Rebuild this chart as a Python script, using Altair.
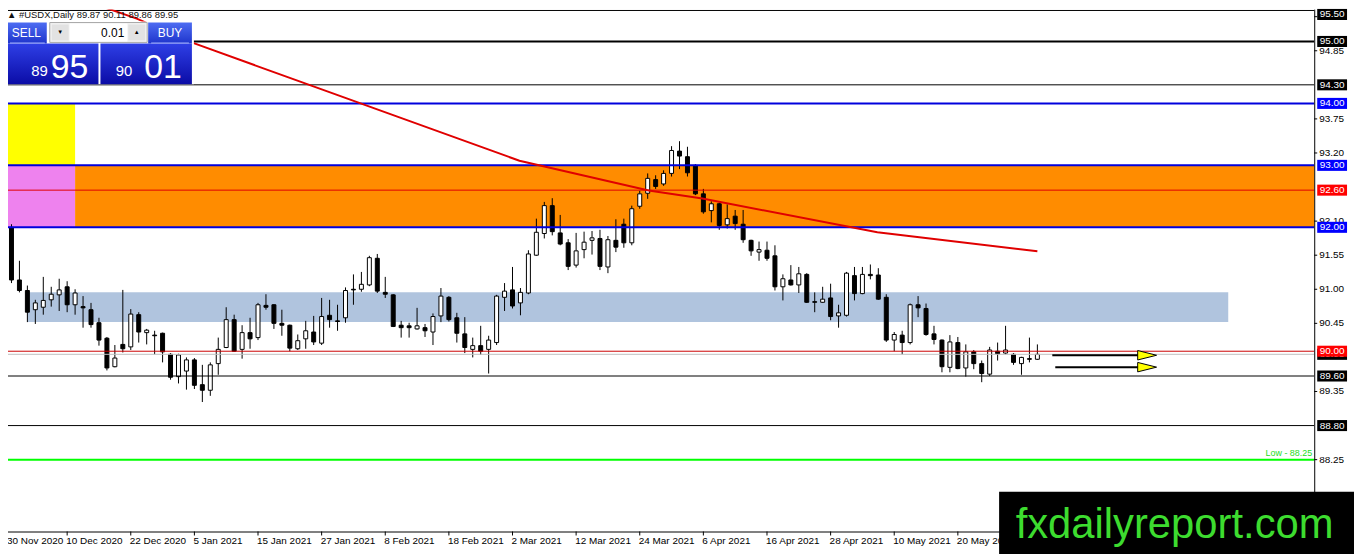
import altair as alt
import pandas as pd

# ---------------- data ----------------
opens = [91.71, 92.00, 91.15, 90.98, 90.67, 90.71, 90.83, 90.91, 91.04, 90.75,
         90.72, 90.67, 90.46, 90.21, 89.75, 90.11, 90.07, 90.59, 90.30, 90.26,
         90.29, 89.95, 89.59, 89.68, 89.86, 89.46, 89.37, 89.80, 90.06, 90.51,
         90.03, 90.30, 90.22, 90.74, 90.75, 90.45, 90.42, 90.04, 90.20, 90.31,
         90.13, 90.58, 90.49, 90.54, 91.00, 91.00, 91.07, 91.50, 90.95, 90.91,
         90.42, 90.41, 90.36, 90.38, 90.31, 90.57, 90.87, 90.54, 90.28, 90.03,
         90.09, 90.03, 90.14, 90.87, 90.99, 90.78, 90.94, 91.55, 91.90, 92.35,
         91.91, 91.75, 91.39, 91.64, 91.79, 91.82, 91.36, 91.79, 92.05, 91.75,
         92.34, 92.55, 92.77, 92.70, 92.87, 93.23, 93.14, 93.00, 92.54, 92.27,
         92.38, 92.04, 92.18, 92.05, 91.79, 91.60, 91.63, 91.54, 91.04, 91.15,
         91.07, 91.24, 90.80, 90.79, 90.86, 90.57, 90.58, 91.22, 90.93, 91.24,
         91.23, 90.87, 90.18, 90.26, 90.14, 90.75, 90.69, 90.28, 90.18, 89.74,
         90.14, 89.73, 89.99, 89.80, 89.63, 90.00, 89.97, 89.95, 89.80, 89.88,
         89.87]
highs = [92.05, 92.05, 91.46, 91.06, 90.83, 91.20, 91.04, 91.17, 91.13, 91.00,
         90.89, 90.78, 90.54, 90.23, 90.10, 90.99, 90.68, 90.63, 90.36, 90.33,
         90.30, 89.97, 89.96, 89.90, 89.89, 89.78, 89.82, 90.22, 90.71, 90.59,
         90.42, 90.54, 90.78, 90.92, 90.76, 90.67, 90.43, 90.27, 90.49, 90.57,
         90.86, 90.83, 90.75, 91.03, 91.24, 91.28, 91.54, 91.57, 91.20, 90.92,
         90.49, 90.46, 90.70, 90.44, 90.61, 91.02, 90.89, 90.62, 90.55, 90.22,
         90.41, 90.25, 90.91, 91.10, 91.36, 91.02, 91.63, 92.14, 92.41, 92.47,
         92.20, 91.81, 91.91, 91.93, 91.94, 91.96, 91.86, 92.13, 92.14, 92.35,
         92.59, 92.87, 92.84, 92.92, 93.31, 93.39, 93.30, 93.02, 92.62, 92.42,
         92.40, 92.37, 92.28, 92.28, 91.80, 91.77, 91.77, 91.71, 91.24, 91.39,
         91.36, 91.26, 90.95, 91.04, 91.09, 90.75, 91.28, 91.36, 91.36, 91.40,
         91.34, 90.92, 90.31, 90.33, 90.77, 90.89, 90.77, 90.41, 90.19, 90.26,
         90.23, 90.11, 90.02, 89.85, 90.07, 90.14, 90.41, 89.97, 89.91, 90.22,
         90.11]
lows = [91.47, 91.10, 90.95, 90.47, 90.44, 90.59, 90.72, 90.65, 90.63, 90.59,
        90.38, 90.38, 90.09, 89.69, 89.74, 89.98, 90.02, 90.14, 90.11, 89.95,
        89.82, 89.54, 89.48, 89.38, 89.39, 89.18, 89.28, 89.62, 90.05, 89.99,
        89.88, 90.04, 90.18, 90.67, 90.36, 90.25, 90.00, 90.02, 90.04, 90.10,
        90.10, 90.38, 90.33, 90.46, 90.75, 90.96, 91.05, 90.94, 90.86, 90.39,
        90.22, 90.22, 90.35, 90.23, 90.10, 90.47, 90.48, 90.14, 89.97, 89.90,
        89.94, 89.64, 90.10, 90.65, 90.69, 90.58, 90.92, 91.54, 91.82, 91.87,
        91.71, 91.31, 91.35, 91.50, 91.56, 91.31, 91.26, 91.60, 91.67, 91.71,
        92.30, 92.46, 92.62, 92.67, 92.82, 92.94, 92.82, 92.52, 92.22, 92.08,
        91.96, 91.98, 91.96, 91.75, 91.54, 91.46, 91.46, 90.98, 90.82, 91.06,
        90.94, 90.78, 90.63, 90.78, 90.50, 90.38, 90.56, 90.82, 90.92, 91.16,
        90.83, 90.15, 90.00, 89.95, 90.11, 90.55, 90.25, 90.11, 89.66, 89.66,
        89.71, 89.59, 89.71, 89.50, 89.60, 89.85, 89.95, 89.78, 89.62, 89.82,
        89.86]
closes = [91.98, 91.15, 90.98, 90.63, 90.78, 90.82, 90.92, 90.99, 90.75, 90.94,
          90.70, 90.43, 90.18, 89.73, 89.89, 90.04, 90.60, 90.31, 90.34, 90.25,
          89.99, 89.58, 89.94, 89.86, 89.45, 89.37, 89.78, 90.03, 90.51, 90.00,
          90.30, 90.20, 90.75, 90.71, 90.45, 90.42, 90.05, 90.17, 90.33, 90.15,
          90.56, 90.51, 90.48, 90.98, 90.99, 91.08, 91.51, 90.97, 90.92, 90.40,
          90.38, 90.38, 90.41, 90.33, 90.56, 90.89, 90.51, 90.29, 90.06, 90.09,
          90.00, 90.18, 90.89, 90.97, 90.73, 90.95, 91.57, 91.92, 92.35, 91.93,
          91.73, 91.37, 91.62, 91.76, 91.83, 91.37, 91.80, 91.68, 91.75, 92.30,
          92.54, 92.79, 92.66, 92.87, 93.24, 93.15, 92.88, 92.54, 92.25, 92.38,
          92.03, 92.14, 92.06, 91.80, 91.62, 91.64, 91.50, 91.04, 91.17, 91.07,
          91.25, 90.79, 90.79, 90.84, 90.56, 90.62, 91.26, 90.93, 91.24, 91.22,
          90.84, 90.18, 90.27, 90.14, 90.75, 90.70, 90.27, 90.19, 89.75, 90.15,
          89.72, 89.99, 89.80, 89.64, 90.02, 89.96, 90.02, 89.82, 89.90, 89.87,
          89.95]

date_labels = ["30 Nov 2020", "10 Dec 2020", "22 Dec 2020", "5 Jan 2021", "15 Jan 2021",
               "27 Jan 2021", "8 Feb 2021", "18 Feb 2021", "2 Mar 2021", "12 Mar 2021",
               "24 Mar 2021", "6 Apr 2021", "16 Apr 2021", "28 Apr 2021", "10 May 2021",
               "20 May 2021"]
date_label_bars = [0, 8, 16, 24, 32, 40, 48, 56, 64, 72, 80, 88, 96, 104, 112, 120]

price_ticks = [95.40, 94.85, 93.75, 93.20, 92.10, 91.55, 91.00, 90.45, 89.35, 88.25]

level_values = [95.50, 95.00, 94.30, 94.00, 93.00, 92.60, 92.00, 89.95, 90.00, 89.60, 88.80, 88.25]
level_colors = ["#000000", "#000000", "#000000", "#0000dd", "#0000dd", "#e00000", "#0000dd",
                "#c0c0c0", "#cc0000", "#000000", "#000000", "#00ff00"]
level_widths = [1, 2, 1, 2, 2, 1, 2, 1, 1, 1, 1, 2]

badge_values = [95.00, 94.30, 94.00, 93.00, 92.60, 92.00, 89.95, 89.60, 88.80]
badge_colors = ["#000000", "#000000", "#0000ff", "#0000ff", "#ff0000", "#0000ff",
                "#000000", "#000000", "#000000"]
top_badge = [95.50]
front_badge = [90.00]

zone_start = [0, 0, 9, 3]
zone_end = [9, 9, 170, 154]
zone_low = [93.00, 92.00, 92.00, 90.47]
zone_high = [94.00, 93.00, 93.00, 90.95]
zone_colors = ["#ffff00", "#ee82ee", "#ff8c00", "#b0c4de"]

trend_bars = [10.625, 16.75, 24, 40.625, 64.875, 81.125, 87.875, 109.875, 130]
trend_values = [95.642, 95.369, 94.968, 94.198, 93.075, 92.594, 92.465, 91.920, 91.615]

arrow_start = [131.875, 132.25]
arrow_end = [142.75, 142.75]
arrow_values = [89.935, 89.743]
arrow_head_bar = [143.8, 143.8]

title_text = "\u25b2 #USDX,Daily  89.87 90.11 89.86 89.95"

# ---------------- chart ----------------
W, H = 1314, 525
FONT = "Liberation Sans"
X0, X1 = 0.5625, 164.8125
xs = alt.Scale(domain=[X0, X1], nice=False, zero=False)
ys = alt.Scale(domain=[87.09, 95.514], nice=False, zero=False)


def X(f):
    return alt.X(f, scale=xs, axis=None)


def Y(f):
    return alt.Y(f, scale=ys, axis=None)


candles = pd.DataFrame({"bar": list(range(len(opens))), "open": opens, "high": highs,
                        "low": lows, "close": closes})
candles["left"] = candles["bar"] - 0.25
candles["right"] = candles["bar"] + 0.25
candles["body"] = ["#000000" if c < o else "#ffffff" for o, c in zip(opens, closes)]

zones = pd.DataFrame({"x0": zone_start, "x1": zone_end, "lo": zone_low, "hi": zone_high,
                      "c": zone_colors})
levels = pd.DataFrame({"v": level_values, "c": level_colors, "w": level_widths})
trend = pd.DataFrame({"bar": trend_bars, "v": trend_values})
arrows = pd.DataFrame({"a": arrow_start, "b": arrow_end, "v": arrow_values, "h": arrow_head_bar})
dates = pd.DataFrame({"bar": date_label_bars, "label": date_labels})
dates["lx"] = [max(b, X0) for b in date_label_bars]   # keep first label inside the page
ticks = pd.DataFrame({"v": price_ticks, "t": [f"{v:.2f}" for v in price_ticks]})


def badge_df(vals, cols):
    return pd.DataFrame({"v": vals, "c": cols, "t": [f"{v:.2f}" for v in vals]})


one = pd.DataFrame({"k": [0]})


def box(x0, x1, y0, y1, **kw):
    return alt.Chart(one).mark_rect(**kw).encode(
        x=alt.value(x0), x2=alt.value(x1), y=alt.value(y0), y2=alt.value(y1))


def label(x, y, s, **kw):
    return alt.Chart(one).mark_text(text=s, **kw).encode(x=alt.value(x), y=alt.value(y))


BADGE_SHAPE = "M -1 -0.37 L 1 -0.37 L 1 0.37 L -1 0.37 Z"


def badge_layers(df, dy=0):
    b = alt.Chart(df).mark_point(
        shape=BADGE_SHAPE, size=900, filled=True, opacity=1, strokeWidth=0, yOffset=dy).encode(
        x=alt.value(W + 18), y=Y("v:Q"), color=alt.Color("c:N", scale=None))
    t = alt.Chart(df).mark_text(
        align="center", baseline="middle", fontSize=10, font=FONT, color="white", dy=dy).encode(
        x=alt.value(W + 18), y=Y("v:Q"), text="t:N")
    return [b, t]


zone_layer = alt.Chart(zones).mark_rect(clip=True).encode(
    x=X("x0:Q"), x2="x1:Q", y=Y("lo:Q"), y2="hi:Q", color=alt.Color("c:N", scale=None))

wicks = alt.Chart(candles).mark_rule(color="black", strokeWidth=1, clip=True).encode(
    x=X("bar:Q"), y=Y("low:Q"), y2="high:Q")
bodies = alt.Chart(candles).mark_rect(stroke="black", strokeWidth=1, clip=True).encode(
    x=X("left:Q"), x2="right:Q", y=Y("open:Q"), y2="close:Q",
    fill=alt.Fill("body:N", scale=None))

level_layer = alt.Chart(levels).mark_rule(clip=True).encode(
    y=Y("v:Q"), color=alt.Color("c:N", scale=None),
    strokeWidth=alt.StrokeWidth("w:Q", scale=None))

trend_layer = alt.Chart(trend).mark_line(color="#e00000", strokeWidth=2, clip=True).encode(
    x=X("bar:Q"), y=Y("v:Q"))

arrow_lines = alt.Chart(arrows).mark_rule(color="black", strokeWidth=2).encode(
    x=X("a:Q"), x2="b:Q", y=Y("v:Q"))
arrow_heads = alt.Chart(arrows).mark_point(
    shape="M -1 -0.5 L 1 0 L -1 0.5 Z", size=361, filled=True, fill="#ffff00",
    stroke="black", strokeWidth=1, opacity=1).encode(x=X("h:Q"), y=Y("v:Q"))

low_text = alt.Chart(pd.DataFrame({"v": [88.25]})).mark_text(
    text="Low - 88.25", align="right", baseline="middle", fontSize=9, font=FONT,
    color="#22dd22", dy=-7).encode(x=alt.value(W - 2), y=Y("v:Q"))

# axes drawn by hand
axis_right = alt.Chart(one).mark_rule(color="black", strokeWidth=1).encode(
    x=alt.value(W + 0.5), y=alt.value(0), y2=alt.value(H))
axis_bottom = alt.Chart(one).mark_rule(color="black", strokeWidth=1).encode(
    x=alt.value(0), x2=alt.value(W), y=alt.value(H + 0.5))
date_ticks = alt.Chart(dates).mark_rule(color="black", strokeWidth=1).encode(
    x=X("bar:Q"), y=alt.value(H), y2=alt.value(H + 4))
date_text = alt.Chart(dates).mark_text(
    align="left", baseline="middle", fontSize=10, font=FONT, color="black", dx=-1).encode(
    x=X("lx:Q"), y=alt.value(H + 10), text="label:N")
price_tick_marks = alt.Chart(ticks).mark_rule(color="black", strokeWidth=1).encode(
    x=alt.value(W), x2=alt.value(W + 3), y=Y("v:Q"))
price_text = alt.Chart(ticks).mark_text(
    align="left", baseline="middle", fontSize=10, font=FONT, color="black").encode(
    x=alt.value(W + 5), y=Y("v:Q"), text="t:N")

badges = (badge_layers(badge_df(badge_values, badge_colors))
          + badge_layers(badge_df(top_badge, ["#000000"]), dy=4)
          + badge_layers(badge_df(front_badge, ["#ff0000"])))

# one-click trading panel
btn_grad = alt.LinearGradient(gradient="linear", x1=0, x2=0, y1=0, y2=1, stops=[
    alt.GradientStop(color="#4d6cf2", offset=0), alt.GradientStop(color="#1f35cc", offset=1)])
price_grad = alt.LinearGradient(gradient="linear", x1=0, x2=0, y1=0, y2=1, stops=[
    alt.GradientStop(color="#2e3fe6", offset=0), alt.GradientStop(color="#0b0ca6", offset=1)])
panel = [
    box(-2, 187, 12, 75, color="white"),
    box(-2, 39, 13, 34, fill=btn_grad),
    box(42, 140, 13, 33, fill="#f2f2f2", stroke="#a8a8a8", strokeWidth=1),
    box(44, 61, 15, 31, fill="#e2e2e2"),
    box(62, 120, 14, 32, fill="#ffffff"),
    box(121, 138, 15, 31, fill="#e2e2e2"),
    box(141, 185, 13, 34, fill=btn_grad),
    box(-2, 91, 34, 75, fill=price_grad),
    box(93, 185, 34, 75, fill=price_grad),
    box(2, 37, 33, 34, fill="#9fb0ff"),
    box(144, 182, 33, 34, fill="#9fb0ff"),
    label(18.5, 24, "SELL", align="center", baseline="middle", fontSize=12, font=FONT, color="white"),
    label(163, 24, "BUY", align="center", baseline="middle", fontSize=12, font=FONT, color="white"),
    label(52.5, 23, "\u25bc", align="center", baseline="middle", fontSize=6, font=FONT, color="black"),
    label(129.5, 23, "\u25b2", align="center", baseline="middle", fontSize=6, font=FONT, color="black"),
    label(117, 24, "0.01", align="right", baseline="middle", fontSize=12, font=FONT, color="black"),
    label(40, 67, "89", align="right", baseline="alphabetic", fontSize=15, font=FONT, color="white"),
    label(43, 69, "95", align="left", baseline="alphabetic", fontSize=34, font=FONT, color="white"),
    label(125, 67, "90", align="right", baseline="alphabetic", fontSize=15, font=FONT, color="white"),
    label(137, 69, "01", align="left", baseline="alphabetic", fontSize=34, font=FONT, color="white"),
]
title = label(-1, 5, title_text, align="left", baseline="middle", fontSize=9.5, font=FONT,
              color="#111111")

watermark = [
    box(997, 1360, 485, 560, color="black"),
    label(1173.5, 532, "fxdailyreport.com", align="center", baseline="alphabetic",
          fontSize=42, font=FONT, color="#3ddc2f"),
]

chart = alt.layer(
    zone_layer, wicks, bodies, level_layer, trend_layer, arrow_lines, arrow_heads, low_text,
    axis_right, axis_bottom, date_ticks, date_text, price_tick_marks, price_text,
    *badges, *panel, title, *watermark
).properties(
    width=W, height=H,
    autosize=alt.AutoSizeParams(type="none"),
    padding={"left": 0, "top": 0, "right": 40, "bottom": 21},
).configure(background="white").configure_view(stroke=None)

chart.save("out.html", embed_options={"renderer": "svg", "actions": False})
